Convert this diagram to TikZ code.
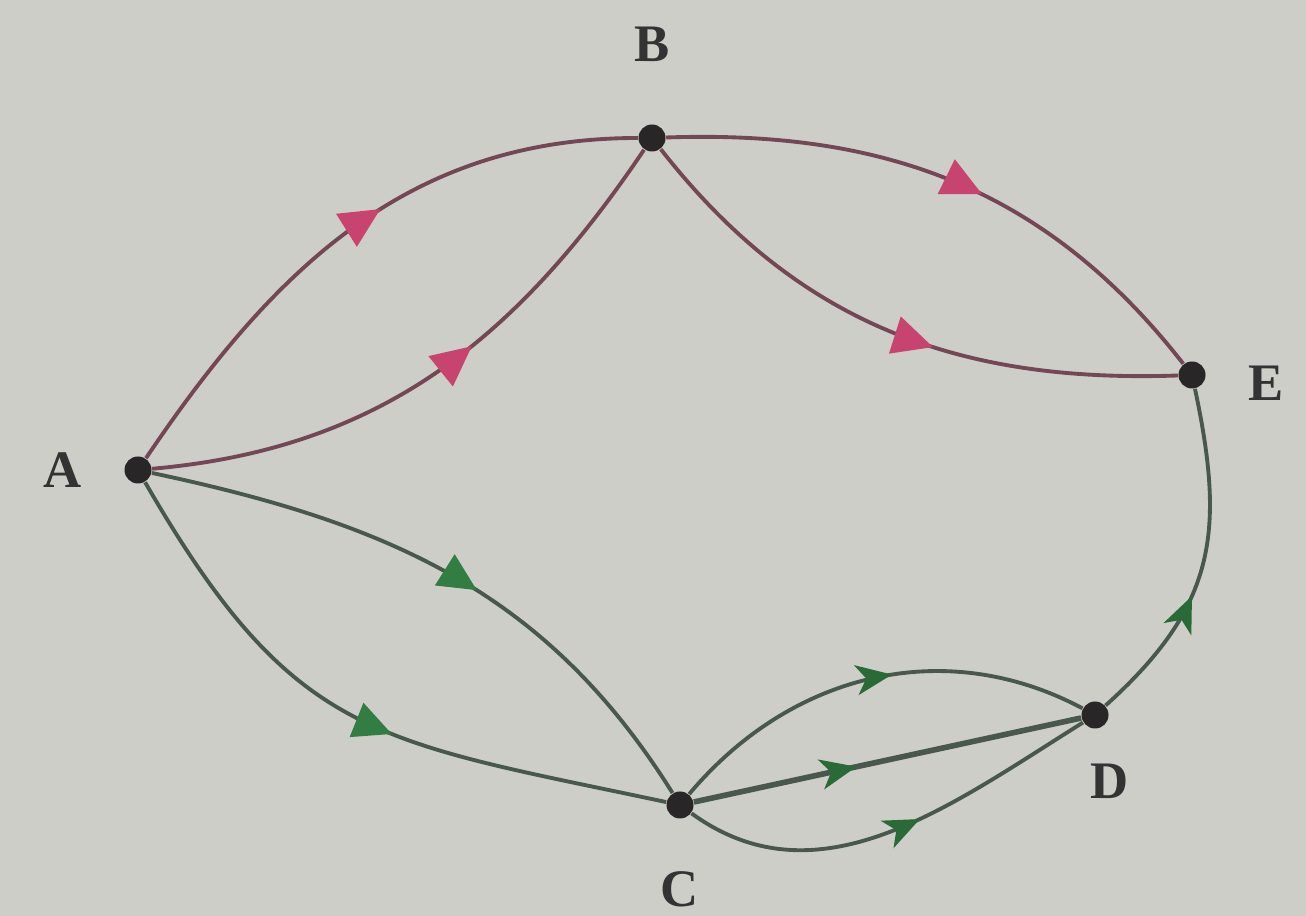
\documentclass[tikz,border=0pt]{standalone}
\usepackage{fontspec}
\setmainfont{Liberation Serif}
\usepackage{tikz}
\usetikzlibrary{positioning, arrows.meta, decorations.markings, backgrounds}

\definecolor{paper}{RGB}{206,206,201}
\definecolor{dotcol}{RGB}{40,38,38}
\definecolor{pinkline}{RGB}{115,72,84}
\definecolor{greenline}{RGB}{72,88,76}
\definecolor{pinkhead}{RGB}{200,68,112}
\definecolor{greenhead}{RGB}{50,125,65}

\begin{document}
\begin{tikzpicture}[
    vtx/.style={circle, fill=dotcol, inner sep=0pt, minimum size=0.27cm},
    lbl/.style={font=\fontsize{15}{18}\selectfont\bfseries, text=black!80},
    redge/.style={draw=pinkline, line width=1.1pt, postaction={decorate},
      decoration={markings, mark=at position #1 with {\arrow{Triangle[length=0.4cm,width=0.38cm,color=pinkhead,fill=pinkhead]}}}},
    gedge/.style={draw=greenline, line width=1.1pt, postaction={decorate},
      decoration={markings, mark=at position #1 with {\arrow{Triangle[length=0.38cm,width=0.36cm,color=greenhead,fill=greenhead]}}}},
    sedge/.style={draw=greenline, line width=1.1pt, postaction={decorate},
      decoration={markings, mark=at position #1 with {\arrow{Stealth[length=0.36cm,width=0.3cm,inset=0.1cm,color=greenhead!85!black,fill=greenhead!85!black]}}}}
  ]
  % Page (1306 x 916 px at 0.01 cm)
  \fill[paper] (0,0) rectangle (13.06,9.16);
  \useasboundingbox (0,0) rectangle (13.06,9.16);

  % Vertices
  \node[vtx] (A) at (1.38,4.46) {};
  \node[vtx] (B) at (6.52,7.78) {};
  \node[vtx] (C) at (6.80,1.11) {};
  \node[vtx] (D) at (10.95,2.01) {};
  \node[vtx] (E) at (11.92,5.41) {};

  % Labels
  \node[lbl, above=0.5cm of B] (lB) {B};
  \node[lbl, left=0.3cm of A] (lA) {A};
  \node[lbl, right=0.3cm of E, yshift=-0.08cm] (lE) {E};
  \node[lbl, below=0.4cm of C] (lC) {C};
  \node[lbl, below=0.22cm of D, xshift=0.15cm] (lD) {D};

  % Red paths
  \draw[redge=0.56] (A) to[out=56, in=180] (B);
  \draw[redge=0.57] (A) to[out=5, in=236] (B);
  \draw[redge=0.55] (B) to[out=2, in=128] (E);
  \draw[redge=0.58] (B) to[out=-52, in=182] (E);

  % Green paths
  \draw[gedge=0.55] (A) to[out=-12, in=122] (C);
  \draw[gedge=0.56] (A) to[out=-60, in=168, looseness=1.25] (C);
  \draw[sedge=0.55] (C) to[out=50, in=152] (D);
  \draw[sedge=0.42, line width=1.6pt] (C) -- (D);
  \draw[sedge=0.56] (C) to[out=-36, in=212] (D);
  \draw[sedge=0.4] (D) to[out=42, in=-78, looseness=1.15] (E);
\end{tikzpicture}
\end{document}
